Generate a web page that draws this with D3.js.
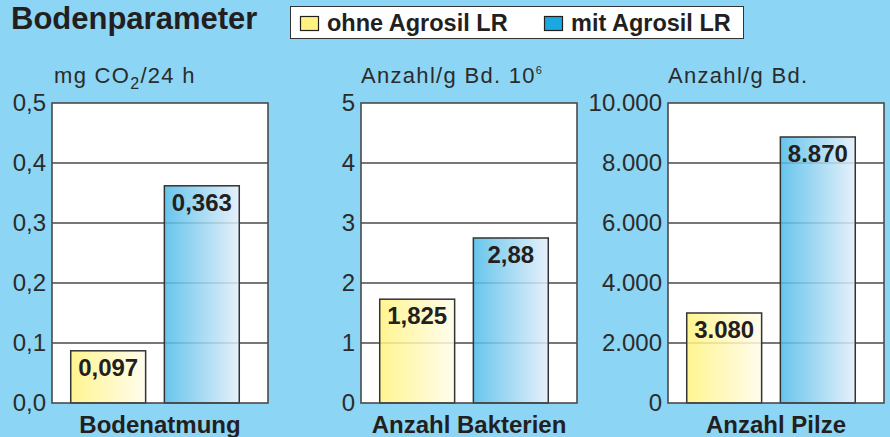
<!DOCTYPE html>
<html>
<head>
<meta charset="utf-8">
<script src="https://cdn.jsdelivr.net/npm/d3@7"></script>
<style>
  html, body { margin: 0; padding: 0; background: #8dd5f4; }
  svg { display: block; }
</style>
</head>
<body>
<svg id="chart" width="890" height="437"></svg>
<script>
// data
const series     = ["ohne Agrosil LR", "mit Agrosil LR"];
const categories = ["Bodenatmung", "Anzahl Bakterien", "Anzahl Pilze"];
const units      = [["mg CO", "2", "/24 h"], ["Anzahl/g Bd. 10", "6", ""], ["Anzahl/g Bd.", "", ""]];
const ohneValues = [0.087, 1.73, 3000];
const mitValues  = [0.362, 2.75, 8867];
const valueLabels = [["0,097", "0,363"], ["1,825", "2,88"], ["3.080", "8.870"]];
const yMax       = [0.5, 5, 10000];
const yTicks     = [
  ["0,0", "0,1", "0,2", "0,3", "0,4", "0,5"],
  ["0", "1", "2", "3", "4", "5"],
  ["0", "2.000", "4.000", "6.000", "8.000", "10.000"]
];

const font = "Liberation Sans, Arial, Helvetica, sans-serif";
const svg = d3.select("#chart");
const defs = svg.append("defs");

function grad(id, c0, c1) {
  let g = defs.append("linearGradient").attr("id", id)
    .attr("x1", "0%").attr("x2", "100%").attr("y1", "0%").attr("y2", "0%");
  g.append("stop").attr("offset", "0%").attr("stop-color", c0);
  g.append("stop").attr("offset", "100%").attr("stop-color", c1);
}
grad("gYellow", "#fff37e", "#fffcea");
grad("gBlue", "#4dbbe8", "#e2eefa");
const fills = ["url(#gYellow)", "url(#gBlue)"];

// title
svg.append("text")
  .attr("x", 11).attr("y", 29)
  .attr("font-family", font)
  .attr("font-size", 31).attr("font-weight", "bold")
  .attr("fill", "#231f20")
  .text("Bodenparameter");

// legend
const legend = svg.append("g");
legend.append("rect")
  .attr("x", 290.5).attr("y", 6.5).attr("width", 453).attr("height", 32)
  .attr("fill", "white").attr("stroke", "#333").attr("stroke-width", 1);
const legX = [300, 544];
series.forEach((s, i) => {
  legend.append("rect")
    .attr("x", legX[i] + 0.5).attr("y", 16.5).attr("width", 18).attr("height", 14)
    .attr("fill", i === 0 ? "#fff27f" : "#1ba8e1")
    .attr("stroke", "#231f20").attr("stroke-width", 1.2);
  legend.append("text")
    .attr("x", legX[i] + 27).attr("y", 31)
    .attr("font-family", font)
    .attr("font-size", 23.5).attr("font-weight", "bold")
    .attr("fill", "#231f20")
    .text(s);
});

// panels
const panelLeft = [52, 361, 668];
const plotW = 216, plotTop = 103, plotBottom = 403;

categories.forEach((cat, p) => {
  const g = svg.append("g").attr("transform", "translate(" + panelLeft[p] + ",0)");
  const y = d3.scaleLinear().domain([0, yMax[p]]).range([plotBottom, plotTop]);
  const x = d3.scaleBand().domain(series).range([0, plotW - 10]).paddingInner(0.2).paddingOuter(0.2);
  const tickVals = d3.range(0, 6).map(i => yMax[p] * i / 5);

  g.append("rect")
    .attr("x", 0).attr("y", plotTop).attr("width", plotW).attr("height", plotBottom - plotTop)
    .attr("fill", "white");

  // grid
  g.selectAll("line.grid")
    .data(tickVals.slice(1, 5))
    .join("line")
    .attr("class", "grid")
    .attr("x1", 0).attr("x2", plotW)
    .attr("y1", d => y(d)).attr("y2", d => y(d))
    .attr("stroke", "#4a4a4a").attr("stroke-width", 1.6);

  // bars
  const vals = [ohneValues[p], mitValues[p]];
  g.selectAll("rect.bar")
    .data(vals)
    .join("rect")
    .attr("class", "bar")
    .attr("x", (d, i) => x(series[i]))
    .attr("y", d => y(d))
    .attr("width", x.bandwidth())
    .attr("height", d => y(0) - y(d))
    .attr("fill", (d, i) => fills[i])
    .attr("fill-opacity", 0.85)
    .attr("stroke", "#333").attr("stroke-width", 1.5);

  g.selectAll("text.val")
    .data(vals)
    .join("text")
    .attr("class", "val")
    .attr("x", (d, i) => x(series[i]) + x.bandwidth() / 2)
    .attr("y", d => y(d) + 25)
    .attr("text-anchor", "middle")
    .attr("font-family", font)
    .attr("font-size", 24).attr("font-weight", "bold")
    .attr("fill", "#231f20")
    .text((d, i) => valueLabels[p][i]);

  // frame
  g.append("rect")
    .attr("x", 0).attr("y", plotTop).attr("width", plotW).attr("height", plotBottom - plotTop)
    .attr("fill", "none").attr("stroke", "#4a4a4a").attr("stroke-width", 1.6);

  // y axis labels
  const ax = g.append("g").call(d3.axisLeft(y).tickValues(tickVals).tickSize(0).tickPadding(6)
    .tickFormat((d, i) => yTicks[p][i]));
  ax.select(".domain").remove();
  ax.selectAll("text")
    .attr("font-family", font)
    .attr("font-size", 24).attr("fill", "#2b2b2b");

  // unit
  const u = g.append("text")
    .attr("x", p === 0 ? 2 : 0).attr("y", 83)
    .attr("font-family", font)
    .attr("font-size", 22).attr("letter-spacing", 1.3)
    .attr("fill", "#2b2b2b");
  u.append("tspan").text(units[p][0]);
  if (units[p][1]) {
    u.append("tspan")
      .attr("font-size", p === 0 ? 16 : 11)
      .attr("dy", p === 0 ? 6 : -9)
      .text(units[p][1]);
    u.append("tspan").attr("dy", p === 0 ? -6 : 9).text(units[p][2]);
  }

  // category
  g.append("text")
    .attr("x", plotW / 2).attr("y", 433)
    .attr("text-anchor", "middle")
    .attr("font-family", font)
    .attr("font-size", 24).attr("font-weight", "bold")
    .attr("fill", "#231f20")
    .text(cat);
});
</script>
</body>
</html>
